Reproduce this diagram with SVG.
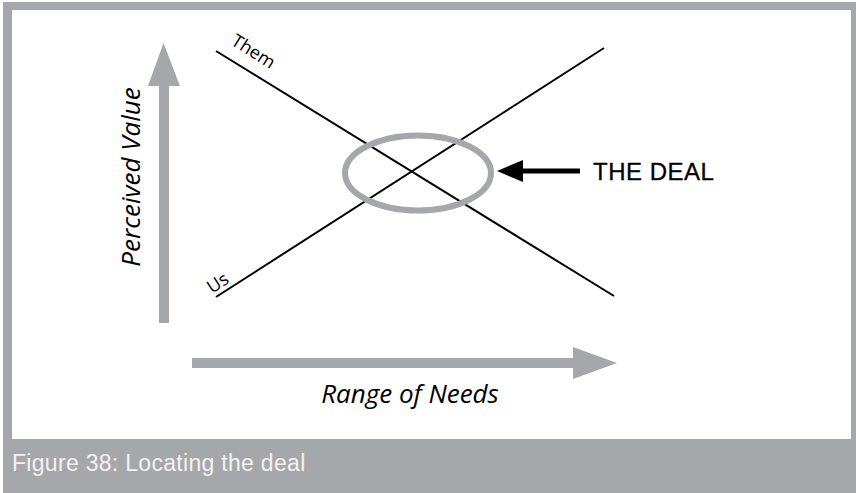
<svg xmlns="http://www.w3.org/2000/svg" width="856" height="493" viewBox="0 0 856 493">
<style>
.frame{fill:#a6a7ab}
.axis{fill:#a6a7ab}
.line{stroke:#000;stroke-width:2;fill:none}
.lbl{font-family:"Open Sans","Liberation Sans",sans-serif;fill:#000}
.ax{font-family:"Open Sans","Liberation Sans",sans-serif;font-style:italic;font-size:26px;fill:#000}
.din{font-family:"Liberation Sans","DejaVu Sans",sans-serif}
</style>
<rect class="frame" x="3" y="2" width="853" height="491"/>
<rect x="12" y="10" width="839" height="429" fill="#fff"/>
<text class="din" x="12" y="471" font-size="23" fill="#f2f2f2" letter-spacing="0.3">Figure 38: Locating the deal</text>

<g id="y-axis">
<polygon class="axis" points="159,323 169,323 169,86 180,86 163.5,43 148,86 159,86"/>
<text class="ax" transform="translate(140,177) rotate(-90)" text-anchor="middle">Perceived Value</text>
</g>
<g id="x-axis">
<polygon class="axis" points="192,358 573,358 573,347 617,363 573,379 573,368 192,368"/>
<text class="ax" x="410" y="403" text-anchor="middle">Range of Needs</text>
</g>

<g id="connectors">
<line id="them-line" class="line" x1="216" y1="51" x2="614" y2="296"/>
<line id="us-line" class="line" x1="216" y1="297" x2="604" y2="48"/>
</g>

<g id="them">
<text class="lbl" font-size="18" transform="translate(230,44) rotate(32)">Them</text>
</g>
<g id="us">
<text class="lbl" font-size="18" transform="translate(212,294) rotate(-33)">Us</text>
</g>

<g id="deal">
<ellipse cx="418" cy="173" rx="73" ry="37.5" fill="none" stroke="#a6a7ab" stroke-width="6"/>
</g>
<g id="deal-label">
<polygon points="497,171 523,160 523,168.5 580,168.5 580,173.5 523,173.5 523,182" fill="#000"/>
<text class="din" x="593" y="180" font-size="24" fill="#000" stroke="#000" stroke-width="0.3" letter-spacing="0.5">THE DEAL</text>
</g>
</svg>
